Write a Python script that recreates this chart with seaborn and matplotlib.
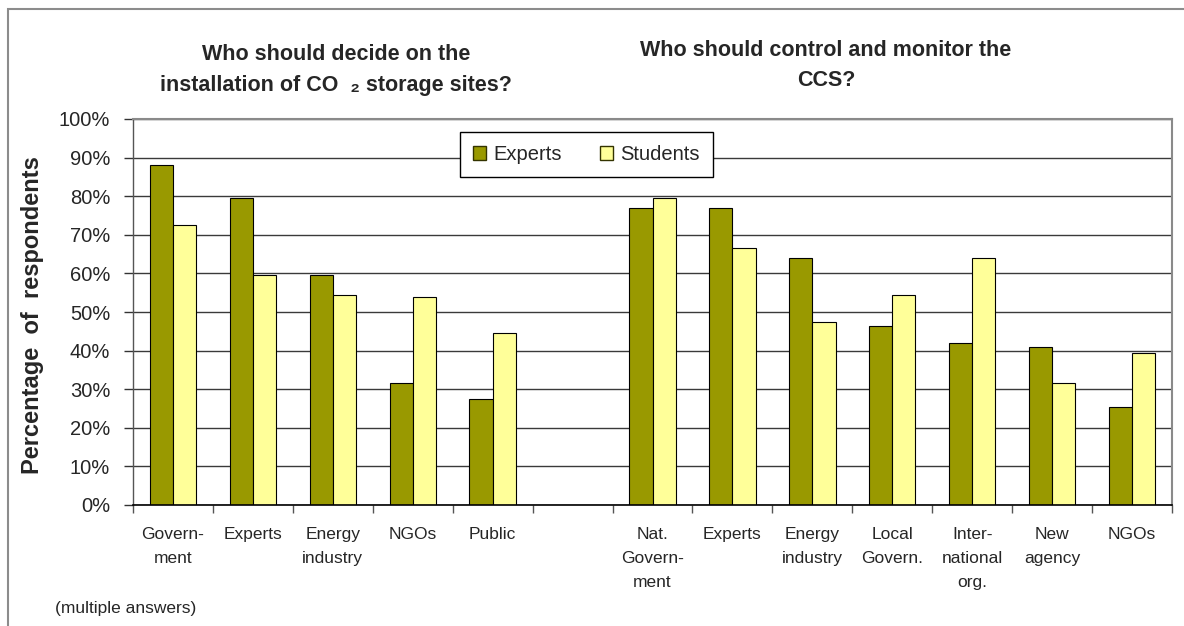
import numpy as np
import pandas as pd
import matplotlib
matplotlib.use("Agg")
import matplotlib.pyplot as plt
import seaborn as sns
from matplotlib.patches import Rectangle

# Survey answers (% of respondents, multiple answers allowed)
left_categories = ["Govern-\nment", "Experts", "Energy\nindustry", "NGOs", "Public"]
left_experts = [88.0, 79.5, 59.5, 31.5, 27.5]
left_students = [72.5, 59.5, 54.5, 54.0, 44.5]

right_categories = ["Nat.\nGovern-\nment", "Experts", "Energy\nindustry", "Local\nGovern.",
                    "Inter-\nnational\norg.", "New\nagency", "NGOs"]
right_experts = [77.0, 77.0, 64.0, 46.5, 42.0, 41.0, 25.5]
right_students = [79.5, 66.5, 47.5, 54.5, 64.0, 31.5, 39.5]

series = ["Experts", "Students"]
colors = {"Experts": "#999900", "Students": "#FFFF99"}
ytick_values = list(range(0, 101, 10))

title_left = ["Who should decide on the", "installation of CO  \u2082 storage sites?"]
title_right = ["Who should control and monitor the", "CCS?"]
ylabel = "Percentage  of  respondents"
footnote = "(multiple answers)"

# One slot per category, with an empty slot separating the two questions
left_keys = [f"L{i}" for i in range(len(left_categories))]
right_keys = [f"R{i}" for i in range(len(right_categories))]
slots = left_keys + ["gap"] + right_keys
slot_labels = left_categories + [""] + right_categories

rows = []
for key, e, s in zip(left_keys, left_experts, left_students):
    rows += [(key, "Experts", e), (key, "Students", s)]
for key, e, s in zip(right_keys, right_experts, right_students):
    rows += [(key, "Experts", e), (key, "Students", s)]
df = pd.DataFrame(rows, columns=["slot", "group", "value"])

sns.set_theme(style="white")
plt.rcParams["font.family"] = ["Liberation Sans", "DejaVu Sans"]

W, H = 1184, 626
fig = plt.figure(figsize=(W / 100, H / 100), dpi=100)
fig.patch.set_facecolor("white")
ax = fig.add_axes([133 / W, 121 / H, 1039 / W, 386 / H])

sns.barplot(data=df, x="slot", y="value", hue="group", order=slots, hue_order=series,
            palette=colors, width=0.58, edgecolor="black", linewidth=0.8,
            errorbar=None, saturation=1, ax=ax)

ax.set_xlim(-0.5, len(slots) - 0.5)
ax.set_ylim(0, 100)
ax.set_yticks(ytick_values)
ax.set_yticklabels([f"{v}%" for v in ytick_values], fontsize=14.5)
ax.set_xticks(range(len(slots)))
ax.set_xticklabels(slot_labels, fontsize=12.5, linespacing=1.75, va="top")
ax.set_xticks(np.arange(-0.5, len(slots)), minor=True)
ax.tick_params(axis="x", which="major", length=0, pad=16)
ax.tick_params(axis="x", which="minor", bottom=True, length=5.5, width=1, color="#555555",
               direction="out")
ax.tick_params(axis="y", left=True, length=6.5, width=1, color="#333333",
               direction="out", pad=10)
ax.set_xlabel("")
ax.set_ylabel(ylabel, fontsize=17, fontweight="bold")
ax.yaxis.set_label_coords(-0.0857, 0.491)

ax.yaxis.grid(True, color="#3a3a3a", linewidth=1)
ax.set_axisbelow(True)
for side in ["top", "right"]:
    ax.spines[side].set_color("#8a8a8a")
    ax.spines[side].set_linewidth(1.5)
ax.spines["left"].set_color("#555555")
ax.spines["left"].set_linewidth(1)
ax.spines["bottom"].set_color("black")
ax.spines["bottom"].set_linewidth(1.2)

sns.move_legend(ax, loc="upper left", bbox_to_anchor=(460 / W, 1 - 132 / H),
                bbox_transform=fig.transFigure, ncol=2, title=None, frameon=True,
                fontsize=14.5, borderpad=0.65, handlelength=0.65, handleheight=0.65,
                handletextpad=0.35, columnspacing=1.9, borderaxespad=0,
                fancybox=False, edgecolor="black", framealpha=1)
leg = ax.get_legend()
leg.get_frame().set_linewidth(1.0)
for h in leg.legend_handles:
    h.set_edgecolor("#333300")
    h.set_linewidth(1.0)

# Titles of the two questions
for y, line in zip([55, 86], title_left):
    fig.text(336 / W, 1 - y / H, line, ha="center", va="center",
             fontsize=15.5, fontweight="bold")
for y, line in zip([51, 81], title_right):
    fig.text(826 / W, 1 - y / H, line, ha="center", va="center",
             fontsize=15.5, fontweight="bold")

fig.text(55 / W, 1 - 608 / H, footnote, ha="left", va="center", fontsize=12.5)

# Outer chart frame
fig.add_artist(Rectangle((7.5 / W, -0.1), 1.2, 1 - 9 / H + 0.1, transform=fig.transFigure,
                         fill=False, edgecolor="#8c8c8c", linewidth=1.5, clip_on=False))

fig.savefig("out.png", dpi=100)
